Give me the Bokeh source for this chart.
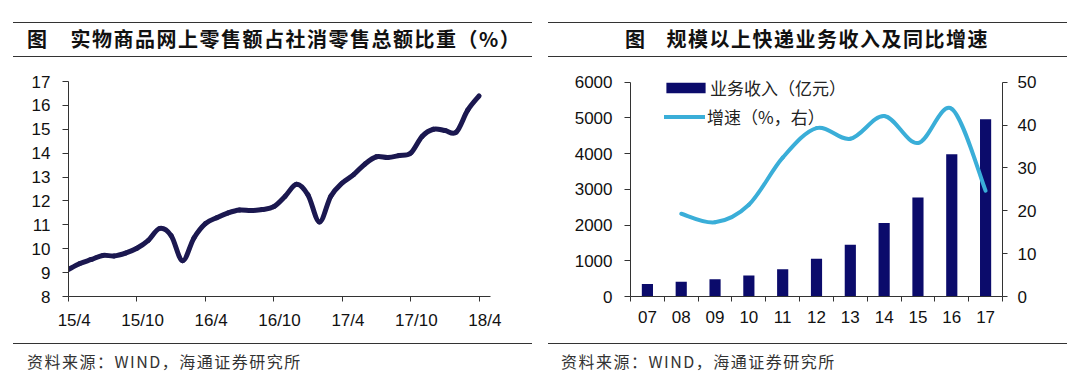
import numpy as np
from bokeh.plotting import figure
from bokeh.models import (Range1d, LinearAxis, FixedTicker, SingleIntervalTicker,
                          Legend, LegendItem, Div, ColumnDataSource)
from bokeh.layouts import row, column
from bokeh.embed import file_html
from bokeh.resources import INLINE

# ---------------- data ----------------
# left: share of online physical-goods retail in total retail sales (%), monthly 15/4 .. 18/4
share = [9.13, 9.38, 9.55, 9.72, 9.70, 9.82, 10.02, 10.35, 10.85, 10.55,
         9.50, 10.45, 11.05, 11.30, 11.50, 11.62, 11.60, 11.64, 11.76, 12.20,
         12.70, 12.25, 11.12, 12.20, 12.75, 13.10, 13.55, 13.85, 13.82, 13.90,
         14.00, 14.70, 15.00, 14.95, 14.88, 15.80, 16.40]
month_ticks = [0, 6, 12, 18, 24, 30, 36]
month_tick_labels = ["15/4", "15/10", "16/4", "16/10", "17/4", "17/10", "18/4"]

# right: express delivery revenue (100m yuan) and growth (%)
years = ["07", "08", "09", "10", "11", "12", "13", "14", "15", "16", "17"]
revenue = [350, 410, 485, 585, 760, 1060, 1450, 2055, 2775, 3985, 4960]
growth_years = ["08", "09", "10", "11", "12", "13", "14", "15", "16", "17"]
growth = [19.3, 17.3, 21.4, 32.4, 39.3, 36.8, 42.1, 35.8, 43.8, 24.7]

NUM_FONT = "Liberation Sans"
CJK_FONT = "Noto Sans CJK SC"


def smooth_segments(xs, ys):
    """Catmull-Rom style bezier segments through the data points (Excel-like smoothing)."""
    P = np.column_stack([np.asarray(xs, float), np.asarray(ys, float)])
    n = len(P)
    out = {k: [] for k in ("x0", "y0", "x1", "y1", "cx0", "cy0", "cx1", "cy1")}
    for i in range(n - 1):
        p0 = P[i - 1] if i > 0 else P[i]
        p1, p2 = P[i], P[i + 1]
        p3 = P[i + 2] if i + 2 < n else P[i + 1]
        c0 = p1 + (p2 - p0) / 6.0
        c1 = p2 - (p3 - p1) / 6.0
        out["x0"].append(p1[0]); out["y0"].append(p1[1])
        out["x1"].append(p2[0]); out["y1"].append(p2[1])
        out["cx0"].append(c0[0]); out["cy0"].append(c0[1])
        out["cx1"].append(c1[0]); out["cy1"].append(c1[1])
    return ColumnDataSource(out)


def style_axis(ax):
    ax.axis_line_color = "#333333"
    ax.axis_line_width = 1
    ax.major_tick_line_color = "#333333"
    ax.minor_tick_line_color = None
    ax.major_label_text_font = NUM_FONT
    ax.major_label_text_font_size = "17px"
    ax.major_label_text_color = "#111111"


def title_div(text, width, ml, pl, gap):
    html = (
        f'<div style="margin:22px 0 0 {ml}px;width:519px;height:35px;box-sizing:border-box;'
        f'border-top:1.5px solid #333;border-bottom:1.5px solid #333;display:flex;align-items:center;'
        f'padding-left:{pl}px;font-family:\'{CJK_FONT}\';font-weight:bold;font-size:20px;'
        f'letter-spacing:1.5px;color:#111;white-space:nowrap">'
        f'<span>图</span><span style="margin-left:{gap}px">{text}</span></div>'
    )
    return Div(text=html, width=width, height=57, margin=0)


def foot_div(width, ml, pl):
    html = (
        f'<div style="margin:9px 0 0 {ml}px;width:519px;box-sizing:border-box;'
        f'border-top:1.5px solid #333;padding:8px 0 0 {pl}px;font-family:\'{CJK_FONT}\';'
        f'font-size:16px;line-height:18px;letter-spacing:1.5px;color:#333;white-space:nowrap">'
        f'资料来源：WIND，海通证券研究所</div>'
    )
    return Div(text=html, width=width, height=35, margin=0)


# ---------------- left chart ----------------
p1 = figure(width=536, height=277, x_range=Range1d(0, 37), y_range=Range1d(8, 17),
            output_backend="svg", toolbar_location=None,
            min_border_left=68, min_border_right=46, min_border_top=24, min_border_bottom=38)
p1.outline_line_color = None
p1.xgrid.visible = False
p1.ygrid.visible = False

mx = np.arange(len(share))
p1.bezier(source=smooth_segments(mx, share), x0="x0", y0="y0", x1="x1", y1="y1",
          cx0="cx0", cy0="cy0", cx1="cx1", cy1="cy1",
          line_color="#1b1850", line_width=5, line_cap="round")

label_pos = [t + 0.5 for t in month_ticks]
p1.xaxis.ticker = FixedTicker(ticks=label_pos, minor_ticks=month_ticks)
p1.xaxis.major_label_overrides = {lp: lab for lp, lab in zip(label_pos, month_tick_labels)}
p1.yaxis.ticker = SingleIntervalTicker(interval=1)
for ax in (p1.xaxis[0], p1.yaxis[0]):
    style_axis(ax)
p1.xaxis.major_tick_line_color = None
p1.xaxis.minor_tick_line_color = "#333333"
p1.xaxis.minor_tick_out = 5
p1.xaxis.minor_tick_in = 0
p1.xaxis.major_label_standoff = 8
p1.yaxis.major_tick_out = 6
p1.yaxis.major_tick_in = 0
p1.yaxis.major_label_standoff = 12

# ---------------- right chart ----------------
# the frame reaches a little above 6000 so that the legend is not clipped; axes stop at 6000 / 50
p2 = figure(width=531, height=277, x_range=Range1d(0, len(years)), y_range=Range1d(0, 6300),
            output_backend="svg", toolbar_location=None,
            min_border_left=90, min_border_right=69, min_border_top=14, min_border_bottom=38)
p2.outline_line_color = None
p2.xgrid.visible = False
p2.ygrid.visible = False
p2.extra_y_ranges = {"growth": Range1d(0, 52.5)}

bar_x = [years.index(y) + 0.5 for y in years]
bars = p2.vbar(x=bar_x, top=revenue, width=0.33, fill_color="#0b0b6b", line_color=None)

gx = [years.index(y) + 0.5 for y in growth_years]
gline = p2.bezier(source=smooth_segments(gx, growth), x0="x0", y0="y0", x1="x1", y1="y1",
                  cx0="cx0", cy0="cy0", cx1="cx1", cy1="cy1",
                  line_color="#3aaed8", line_width=4, line_cap="round", y_range_name="growth")

raxis = LinearAxis(y_range_name="growth", ticker=SingleIntervalTicker(interval=10), bounds=(0, 50))
p2.add_layout(raxis, "right")
p2.yaxis[0].bounds = (0, 6000)

p2.xaxis.ticker = FixedTicker(ticks=bar_x, minor_ticks=list(range(len(years) + 1)))
p2.xaxis.major_label_overrides = {bx: y for bx, y in zip(bar_x, years)}
p2.yaxis[0].ticker = SingleIntervalTicker(interval=1000)
for ax in (p2.xaxis[0], p2.yaxis[0], raxis):
    style_axis(ax)
p2.xaxis.major_tick_line_color = None
p2.xaxis.minor_tick_line_color = "#333333"
p2.xaxis.minor_tick_out = 5
p2.xaxis.minor_tick_in = 0
p2.xaxis.major_label_standoff = 8
p2.yaxis[0].major_tick_out = 6
p2.yaxis[0].major_tick_in = 0
p2.yaxis[0].major_label_standoff = 12
raxis.major_tick_out = 5
raxis.major_tick_in = 0
raxis.major_label_standoff = 10

leg1 = Legend(items=[LegendItem(label="业务收入（亿元）", renderers=[bars])],
              location=(31, 196), glyph_width=49, glyph_height=13, label_standoff=0,
              padding=0, margin=0, spacing=0, label_height=20,
              border_line_color=None, background_fill_alpha=0,
              label_text_font=CJK_FONT, label_text_font_size="17px", label_text_color="#222")
leg2 = Legend(items=[LegendItem(label="增速（%，右）", renderers=[gline])],
              location=(34, 167), glyph_width=41, glyph_height=13, label_standoff=2,
              padding=0, margin=0, spacing=0, label_height=20,
              border_line_color=None, background_fill_alpha=0,
              label_text_font=CJK_FONT, label_text_font_size="17px", label_text_color="#222")
p2.add_layout(leg1)
p2.add_layout(leg2)

left = column(title_div("实物商品网上零售额占社消零售总额比重（%）", 536, 13, 14, 22),
              p1, foot_div(536, 13, 14), spacing=0)
right = column(title_div("规模以上快递业务收入及同比增速", 531, 8, 77, 20),
               p2, foot_div(531, 8, 13), spacing=0)
layout = row(left, right, spacing=4)

open("out.html", "w").write(file_html(layout, INLINE))
